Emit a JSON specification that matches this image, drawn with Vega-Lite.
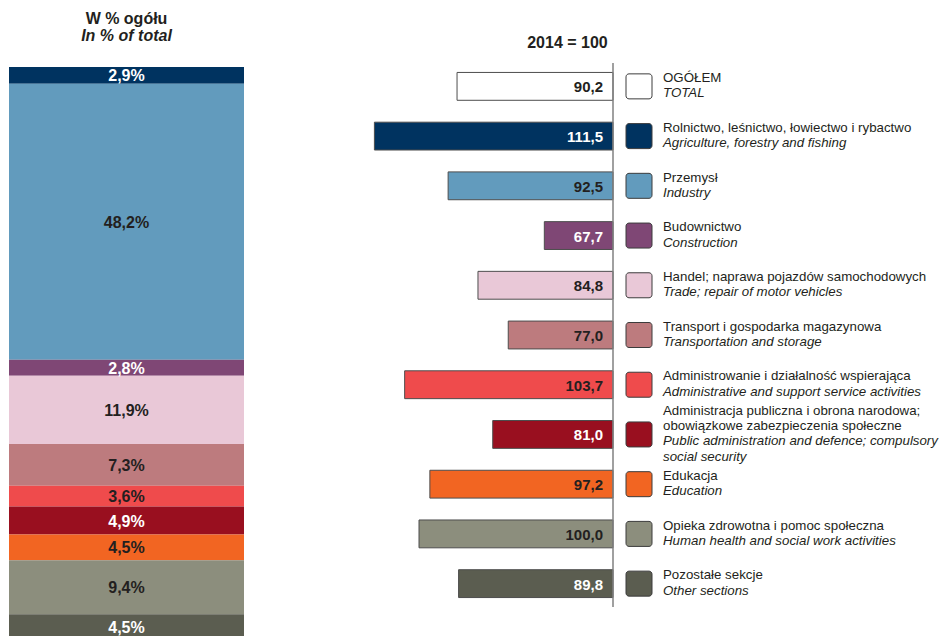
{
  "$schema": "https://vega.github.io/schema/vega-lite/v6.json",
  "usermeta": {"embedOptions": {"actions": false}},
  "background": "white",
  "padding": {"left": 9, "top": 10, "right": 0, "bottom": 0},
  "config": {
    "view": {"stroke": null},
    "font": "Liberation Sans",
    "locale": {"number": {"decimal": ",", "thousands": " ", "grouping": [3], "currency": ["", " zł"]}}
  },
  "datasets": {
    "sectors": [
      {"key": "tot", "pl0": null, "pl": "OGÓŁEM", "en": "TOTAL", "index": 90.2, "share": null},
      {"key": "agr", "pl0": null, "pl": "Rolnictwo, leśnictwo, łowiectwo i rybactwo", "en": "Agriculture, forestry and fishing", "index": 111.5, "share": 0.029},
      {"key": "ind", "pl0": null, "pl": "Przemysł", "en": "Industry", "index": 92.5, "share": 0.482},
      {"key": "con", "pl0": null, "pl": "Budownictwo", "en": "Construction", "index": 67.7, "share": 0.028},
      {"key": "tra", "pl0": null, "pl": "Handel; naprawa pojazdów samochodowych", "en": "Trade; repair of motor vehicles", "index": 84.8, "share": 0.119},
      {"key": "trn", "pl0": null, "pl": "Transport i gospodarka magazynowa", "en": "Transportation and storage", "index": 77.0, "share": 0.073},
      {"key": "adm", "pl0": null, "pl": "Administrowanie i działalność wspierająca", "en": "Administrative and support service activities", "index": 103.7, "share": 0.036},
      {"key": "pub", "pl0": "Administracja publiczna i obrona narodowa;", "pl": "obowiązkowe zabezpieczenia społeczne", "en": "Public administration and defence; compulsory\nsocial security", "index": 81.0, "share": 0.049},
      {"key": "edu", "pl0": null, "pl": "Edukacja", "en": "Education", "index": 97.2, "share": 0.045},
      {"key": "hea", "pl0": null, "pl": "Opieka zdrowotna i pomoc społeczna", "en": "Human health and social work activities", "index": 100.0, "share": 0.094},
      {"key": "oth", "pl0": null, "pl": "Pozostałe sekcje", "en": "Other sections", "index": 89.8, "share": 0.045}
    ]
  },
  "bounds": "flush",
  "spacing": 116,
  "hconcat": [
    {
      "width": 235,
      "height": 577,
      "title": {"text": "W % ogółu", "subtitle": "In % of total", "font": "Liberation Sans", "subtitleFont": "Liberation Sans", "fontSize": 16, "fontWeight": "bold", "color": "#231f20", "subtitleFontSize": 16, "subtitleFontWeight": "bold", "subtitleFontStyle": "italic", "subtitleColor": "#231f20", "subtitlePadding": 1, "offset": 19.5, "anchor": "middle"},
      "data": {"name": "sectors"},
      "transform": [
        {"filter": "isValid(datum.share)"},
        {"window": [{"op": "row_number", "as": "rank"}]}
      ],
      "encoding": {
        "x": {"datum": "all", "type": "nominal", "axis": null, "scale": {"paddingInner": 0, "paddingOuter": 0}},
        "order": {"field": "rank", "type": "quantitative"}
      },
      "layer": [
        {
          "mark": {"type": "bar"},
          "encoding": {
            "y": {"field": "share", "type": "quantitative", "stack": "zero", "axis": null, "scale": {"domain": [-0.007, 1], "reverse": true, "nice": false, "zero": false}},
            "color": {"field": "key", "type": "nominal", "legend": null, "scale": {"domain": ["tot", "agr", "ind", "con", "tra", "trn", "adm", "pub", "edu", "hea", "oth"], "range": ["#ffffff", "#003360", "#629bbd", "#7f4775", "#e9c8d7", "#bd7b7e", "#ef4b4c", "#990f1f", "#f26522", "#8c8e7d", "#5b5d50"]}}
          }
        },
        {
          "mark": {"type": "text", "fontSize": 16, "fontWeight": "bold", "baseline": "middle", "dy": 1},
          "encoding": {
            "y": {"field": "share", "type": "quantitative", "stack": "zero", "bandPosition": 0.5},
            "detail": {"field": "key", "type": "nominal"},
            "text": {"field": "share", "type": "quantitative", "format": ".1%"},
            "color": {"condition": {"test": "indexof(['agr','con','pub','oth'], datum.key) >= 0", "value": "#ffffff"}, "value": "#231f20"}
          }
        }
      ]
    },
    {
      "bounds": "flush",
      "spacing": 0,
      "hconcat": [
        {
          "width": 253,
          "height": 544,
          "title": {"text": "2014 = 100", "font": "Liberation Sans", "fontSize": 16, "fontWeight": "bold", "color": "#231f20", "anchor": "end", "dx": -6, "offset": 11},
          "data": {"name": "sectors"},
          "layer": [
            {
              "mark": {"type": "bar", "stroke": "#4d4d4d", "strokeWidth": 1},
              "encoding": {
                "y": {"field": "key", "type": "nominal", "sort": null, "axis": null, "scale": {"paddingInner": 0.44, "paddingOuter": 0.19}},
                "x": {"field": "index", "type": "quantitative", "axis": null, "scale": {"domain": [50, 115.21], "reverse": true, "nice": false, "zero": false}},
                "x2": {"datum": 50},
                "color": {"field": "key", "type": "nominal", "legend": null, "scale": {"domain": ["tot", "agr", "ind", "con", "tra", "trn", "adm", "pub", "edu", "hea", "oth"], "range": ["#ffffff", "#003360", "#629bbd", "#7f4775", "#e9c8d7", "#bd7b7e", "#ef4b4c", "#990f1f", "#f26522", "#8c8e7d", "#5b5d50"]}}
              }
            },
            {
              "mark": {"type": "text", "fontSize": 15, "fontWeight": "bold", "align": "right", "baseline": "middle", "dx": -10, "dy": 1},
              "encoding": {
                "y": {"field": "key", "type": "nominal", "sort": null},
                "x": {"datum": 50, "type": "quantitative"},
                "text": {"field": "index", "type": "quantitative", "format": ".1f"},
                "color": {"condition": {"test": "indexof(['agr','con','pub','oth'], datum.key) >= 0", "value": "#ffffff"}, "value": "#231f20"}
              }
            },
            {
              "data": {"values": [{"base": 50}]},
              "mark": {"type": "rule", "color": "#808080", "strokeWidth": 1.5},
              "encoding": {
                "x": {"field": "base", "type": "quantitative"}
              }
            }
          ]
        },
        {
          "width": 327,
          "height": 544,
          "data": {"name": "sectors"},
          "encoding": {
            "y": {"field": "key", "type": "nominal", "sort": null, "axis": null, "scale": {"paddingInner": 0.44, "paddingOuter": 0.19}}
          },
          "layer": [
            {
              "mark": {"type": "bar", "cornerRadius": 3, "stroke": "#3c3c3c", "strokeWidth": 1, "size": 25},
              "encoding": {
                "x": {"datum": 13, "type": "quantitative", "axis": null, "scale": {"domain": [0, 327], "nice": false, "zero": false}},
                "x2": {"datum": 39},
                "color": {"field": "key", "type": "nominal", "legend": null, "scale": {"domain": ["tot", "agr", "ind", "con", "tra", "trn", "adm", "pub", "edu", "hea", "oth"], "range": ["#ffffff", "#003360", "#629bbd", "#7f4775", "#e9c8d7", "#bd7b7e", "#ef4b4c", "#990f1f", "#f26522", "#8c8e7d", "#5b5d50"]}}
              }
            },
            {
              "transform": [{"filter": "isValid(datum.pl0)"}],
              "mark": {"type": "text", "align": "left", "baseline": "bottom", "dy": -16.6, "fontSize": 13.3, "color": "#231f20"},
              "encoding": {
                "x": {"datum": 50, "type": "quantitative"},
                "text": {"field": "pl0", "type": "nominal"}
              }
            },
            {
              "mark": {"type": "text", "align": "left", "baseline": "bottom", "dy": -1.3, "fontSize": 13.3, "color": "#231f20"},
              "encoding": {
                "x": {"datum": 50, "type": "quantitative"},
                "text": {"field": "pl", "type": "nominal"}
              }
            },
            {
              "mark": {"type": "text", "align": "left", "baseline": "top", "dy": 0, "fontSize": 13.3, "fontStyle": "italic", "lineHeight": 15.3, "lineBreak": "\n", "color": "#231f20"},
              "encoding": {
                "x": {"datum": 50, "type": "quantitative"},
                "text": {"field": "en", "type": "nominal"}
              }
            }
          ]
        }
      ]
    }
  ]
}
